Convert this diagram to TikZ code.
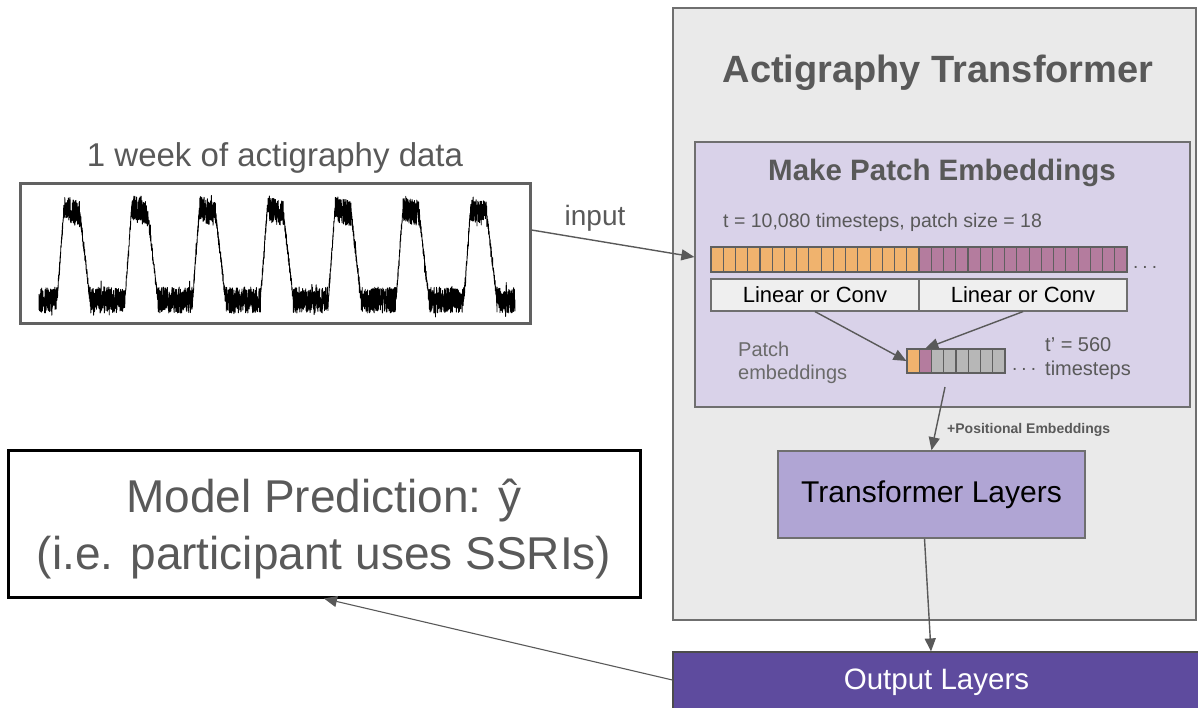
\documentclass[tikz,border=0pt]{standalone}
\usepackage{fontspec}
\setmainfont{Liberation Sans}
\usetikzlibrary{arrows.meta}

\definecolor{txtgray}{HTML}{595959}
\definecolor{linegray}{HTML}{595959}
\definecolor{boxborder}{HTML}{6F6F6F}
\definecolor{cellborder}{HTML}{5F5F5F}
\definecolor{outerfill}{HTML}{EAEAEA}
\definecolor{lav}{HTML}{D9D2E9}
\definecolor{lavdark}{HTML}{B0A5D4}
\definecolor{dpurple}{HTML}{5E4B9E}
\definecolor{orangec}{HTML}{F0B36E}
\definecolor{magc}{HTML}{B47C9E}
\definecolor{cellgray}{HTML}{B7B7B7}
\definecolor{lcfill}{HTML}{EFEFEF}

\pgfmathdeclarefunction{actsig}{1}{%
  \begingroup
  \pgfmathsetmacro\actu{mod(#1+10.8,67.8)}%
  \pgfmathsetmacro\actb{\actu<7 ? 300-93*\actu/7 : (\actu<23 ? 208+0.4*(\actu-7) : (\actu<33 ? 214+86*(\actu-23)/10 : 300))}%
  \pgfmathsetmacro\acta{(\actu<7) ? 4.5 : ((\actu>23 && \actu<33) ? 5 : 13)}%
  \pgfmathparse{\actb+\acta*rand+(rnd>0.95 ? 8*rand : 0)}%
  \pgfmathsmuggle\pgfmathresult
  \endgroup}

\begin{document}
\begin{tikzpicture}[x=1pt,y=-1pt,
  txt/.style={inner sep=0pt, text=txtgray},
  arr/.style={draw=linegray, line width=1.4pt, -{Triangle[length=13pt,width=11pt]}},
  cell/.style={draw=cellborder, line width=1.1pt, minimum width=12.25pt, minimum height=24pt, inner sep=0pt},
  lcbox/.style={draw=boxborder, fill=lcfill, line width=1.2pt, minimum width=208pt, minimum height=32pt, inner sep=0pt, font=\fontsize{22pt}{26pt}\selectfont, text=black}
]
\useasboundingbox (0,0) rectangle (1198,707);
\clip (0,0) rectangle (1198,707);

% outer container
\node[draw=boxborder, fill=outerfill, line width=1.5pt, minimum width=523pt, minimum height=612pt, inner sep=0pt] (outer) at (934.5,314) {};
\node[txt, anchor=base, font=\fontsize{38pt}{46pt}\selectfont\bfseries] (title) at (938,82) {Actigraphy Transformer};

% patch embedding box
\node[draw=boxborder, fill=lav, line width=1.3pt, minimum width=495pt, minimum height=265pt, inner sep=0pt] (pe) at (942.5,274.5) {};
\node[txt, anchor=base, font=\fontsize{29.5pt}{35pt}\selectfont\bfseries] (petitle) at (942,180) {Make Patch Embeddings};
\node[txt, anchor=base west, font=\fontsize{19.5pt}{24pt}\selectfont] (tinfo) at (723,227) {t = 10,080 timesteps, patch size = 18};

% big strip
\foreach \i in {0,...,33} {
  \ifnum\i<17 \def\cc{orangec}\else\def\cc{magc}\fi
  \path[draw=cellborder, fill=\cc, line width=1.1pt] (711+12.235*\i,247) rectangle ++(12.235,25);
}
\node[txt, anchor=base west, font=\fontsize{19pt}{24pt}\selectfont] (dots1) at (1133,268) {.\hspace{4pt}.\hspace{4pt}.};

\node[lcbox] (lc1) at (815,295) {Linear or Conv};
\node[lcbox] (lc2) at (1023,295) {Linear or Conv};

% small strip
\foreach \i/\cc in {1/orangec,2/magc,3/cellgray,4/cellgray,5/cellgray,6/cellgray,7/cellgray,8/cellgray} {
  \node[cell, fill=\cc] (c\i) at ({907+12.25*(\i-0.5)},361) {};
}
\node[txt, anchor=base west, font=\fontsize{19pt}{24pt}\selectfont] (dots2) at (1012,370) {.\hspace{4pt}.\hspace{4pt}.};
\node[txt, anchor=north west, align=left, text=txtgray!90!white, font=\fontsize{20pt}{23pt}\selectfont] (pelabel) at (738,342) {Patch\\embeddings};
\node[txt, anchor=north west, align=left, font=\fontsize{20pt}{24pt}\selectfont] (tprime) at (1045,337) {t’ = 560\\timesteps};

\draw[arr] (lc1.south) -- (c1.west);
\draw[arr] (lc2.south) -- (c2.north);

% transformer layers
\coordinate (peout) at (945,387);
\node[draw=boxborder, fill=lavdark, line width=1.5pt, minimum width=307pt, minimum height=87pt, inner sep=0pt, font=\fontsize{30pt}{36pt}\selectfont, text=black] (tl) at (931.5,494.5) {Transformer Layers};
\draw[arr] (peout) -- (tl.north);
\node[txt, anchor=base west, font=\fontsize{14pt}{17pt}\selectfont\bfseries] (posemb) at (947,433) {+Positional Embeddings};

% output layers
\node[draw=black!70, fill=dpurple, line width=1.2pt, minimum width=527pt, minimum height=60pt, inner sep=0pt, font=\fontsize{29.5pt}{35pt}\selectfont, text=white] (out) at (936.5,682) {Output Layers};
\draw[arr] ([xshift=-7pt]tl.south) -- ([xshift=-5.5pt]out.north);

% input data
\node[draw=black!62, line width=3pt, minimum width=510pt, minimum height=140pt, inner sep=0pt, fill=white] (acti) at (275,253) {};
\node[txt, anchor=base, font=\fontsize{33pt}{39pt}\selectfont] (actititle) at (275,166) {1 week of actigraphy data};
\pgfmathsetseed{7}
\draw[line width=0.9pt, black, line join=round] plot[domain=39:515, samples=3600, variable=\t] (\t,{actsig(\t)});

\draw[arr] ([yshift=23pt]acti.east) -- ([yshift=17.5pt]pe.west);
\node[txt, anchor=base, font=\fontsize{28pt}{33pt}\selectfont] (inputlbl) at (595,225) {input};

% prediction
\node[draw=black, line width=3pt, minimum width=632pt, minimum height=147pt, inner sep=0pt] (pred) at (324,523.5) {};
\node[inner sep=0pt, align=center, text=txtgray, font=\fontsize{46pt}{57pt}\selectfont] (predtext) at (324,529) {Model Prediction: ŷ\\(i.e. participant uses SSRIs)};
\draw[arr, line width=1.1pt] ([yshift=2pt]out.west) -- (pred.south);
\end{tikzpicture}
\end{document}
